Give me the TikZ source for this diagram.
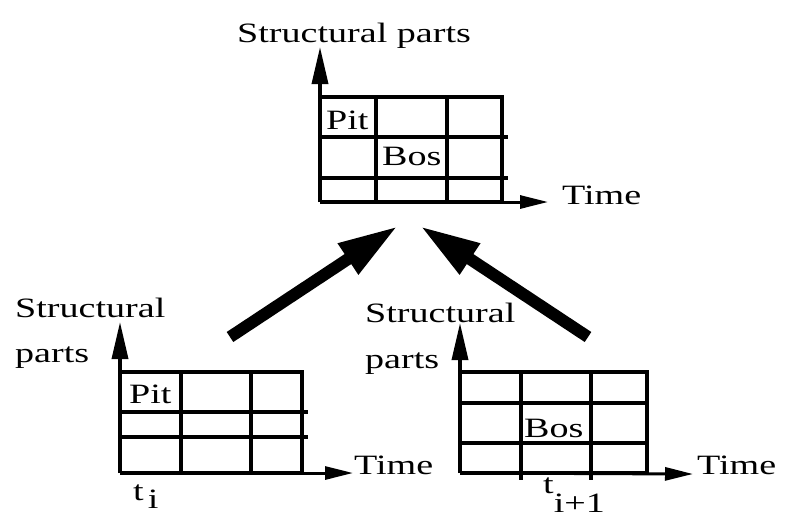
\documentclass[tikz,border=0pt]{standalone}
\usepackage{graphicx}
\usepackage{fontspec}
\setmainfont{Liberation Serif}
\usetikzlibrary{arrows.meta}
\newcommand{\widetxt}[1]{\scalebox{1.36}[1]{#1}}
\begin{document}
\begin{tikzpicture}[x=1pt,y=-1pt,
  lbl/.style={anchor=base west, inner sep=0pt, font=\fontsize{28}{33}\selectfont},
  gridline/.style={line width=3.5pt},
  vaxis/.style={line width=3.5pt, -{Triangle[length=37pt,width=16pt]}},
  haxis/.style={line width=3pt, -{Triangle[length=28pt,width=13pt]}},
  bigarrow/.style={line width=12pt, -{Triangle[length=60pt,width=34pt]}}]
\useasboundingbox (0,0) rectangle (786,517);

% ---------- top chart ----------
\coordinate (O1) at (320,202);
\coordinate (Y1) at (320,47);
\coordinate (X1) at (548,202);
\draw[gridline] (320,97) -| (502,202) -- (320,202);
\draw[gridline] (320,137) -- (508,137);
\draw[gridline] (320,178) -- (508,178);
\draw[gridline] (376,97) -- (376,202);
\draw[gridline] (447,97) -- (447,202);
\draw[vaxis] (O1) -- (Y1);
\draw[haxis] (O1) -- (X1);
\node[lbl] (st1) at (237,42) {\widetxt{Structural parts}};
\node[lbl] (ti1) at (562,204) {\widetxt{Time}};
\node[lbl] (pit1) at (326,129) {\widetxt{Pit}};
\node[lbl] (bos1) at (382,165) {\widetxt{Bos}};

% ---------- bottom left chart ----------
\coordinate (O2) at (120,473);
\coordinate (Y2) at (120,322);
\coordinate (X2) at (353,473);
\draw[gridline] (120,372) -| (302,473) -- (120,473);
\draw[gridline] (120,412) -- (308,412);
\draw[gridline] (120,437) -- (308,437);
\draw[gridline] (181,372) -- (181,473);
\draw[gridline] (251,372) -- (251,473);
\draw[vaxis] (O2) -- (Y2);
\draw[haxis] (O2) -- (X2);
\node[lbl] (st2) at (15,317) {\widetxt{Structural}};
\node[lbl] (pa2) at (15,362) {\widetxt{parts}};
\node[lbl] (pit2) at (129,403) {\widetxt{Pit}};
\node[lbl] (ti2) at (354,474) {\widetxt{Time}};
\node[lbl] (t2) at (133,500) {\widetxt{t\hspace{3pt}\raisebox{-8pt}{i}}};

% ---------- bottom right chart ----------
\coordinate (O3) at (460,473);
\coordinate (Y3) at (460,323);
\coordinate (X3) at (693,474);
\draw[gridline] (460,372) -| (647,473) -- (460,473);
\draw[gridline] (460,403) -- (647,403);
\draw[gridline] (460,443) -- (647,443);
\draw[gridline] (521,372) -- (521,480);
\draw[gridline] (591,372) -- (591,480);
\draw[vaxis] (O3) -- (Y3);
\draw[haxis] (O3) -- (X3);
\node[lbl] (st3) at (365,322) {\widetxt{Structural}};
\node[lbl] (pa3) at (365,368) {\widetxt{parts}};
\node[lbl] (bos3) at (524,437) {\widetxt{Bos}};
\node[lbl] (ti3) at (697,474) {\widetxt{Time}};
\node[lbl] (t3) at (543,493) {\widetxt{t\raisebox{-19pt}{i+1}}};

% ---------- big arrows ----------
\coordinate (A1s) at (230,337);
\coordinate (A1e) at (398,226);
\coordinate (A2s) at (588,337);
\coordinate (A2e) at (420,226);
\draw[bigarrow] (A1s) -- (A1e);
\draw[bigarrow] (A2s) -- (A2e);
\end{tikzpicture}
\end{document}
